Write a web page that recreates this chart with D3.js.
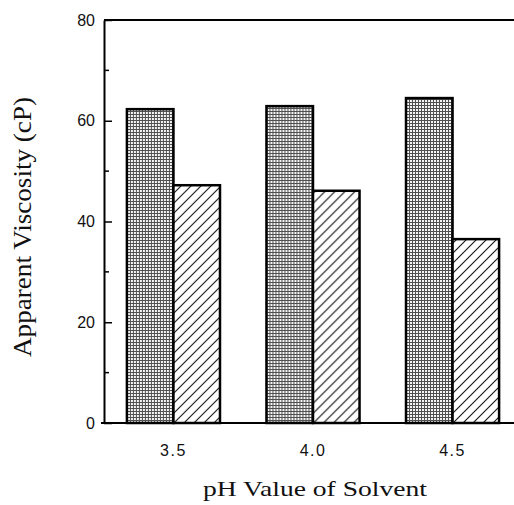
<!DOCTYPE html>
<html>
<head>
<meta charset="utf-8">
<script src="https://cdn.jsdelivr.net/npm/d3@7"></script>
<style>
  html, body { margin: 0; padding: 0; background: #fff; }
  svg { display: block; }
</style>
</head>
<body>
<svg id="chart"></svg>
<script>
// pH of solvent, two series of apparent viscosity (cP)
const phValues = ["3.5", "4.0", "4.5"];
const seriesKeys = ["dotted", "hatched"];
const dottedValues = [62.3, 62.9, 64.5];
const hatchedValues = [47.2, 46.1, 36.5];
const yTicks = [0, 20, 40, 60, 80];
const yMinorTicks = [10, 30, 50, 70];

const width = 514, height = 505;
const margin = { top: 20, right: 0, bottom: 82, left: 104 };
const plotBottom = height - margin.bottom;
const sansFont = '"Liberation Sans", Arial, sans-serif';
const serifFont = '"Liberation Serif", "Times New Roman", serif';

const svg = d3.select('#chart')
    .attr('width', width)
    .attr('height', height);

// fill patterns
const defs = svg.append('defs');
const dots = defs.append('pattern')
    .attr('id', 'dots')
    .attr('patternUnits', 'userSpaceOnUse')
    .attr('width', 3).attr('height', 3);
dots.append('rect').attr('width', 3).attr('height', 3).attr('fill', '#505050');
dots.append('rect').attr('x', 1).attr('y', 1).attr('width', 2).attr('height', 2).attr('fill', '#f6f6f6');

const hatch = defs.append('pattern')
    .attr('id', 'hatch')
    .attr('patternUnits', 'userSpaceOnUse')
    .attr('width', 10).attr('height', 10);
hatch.append('rect').attr('width', 10).attr('height', 10).attr('fill', '#fff');
hatch.append('path')
    .attr('d', 'M-1,1 l2,-2 M0,10 l10,-10 M9,11 l2,-2')
    .attr('stroke', '#111')
    .attr('stroke-width', 1.1);

const yScale = d3.scaleLinear()
    .domain([0, 80])
    .range([plotBottom, margin.top]);

const xScale = d3.scaleBand()
    .domain(phValues)
    .range([99, 527])
    .paddingInner(0.333)
    .paddingOuter(0.2);

const subScale = d3.scaleBand()
    .domain(seriesKeys)
    .range([0, xScale.bandwidth()]);

const rows = phValues.map((ph, i) => ({ ph, dotted: dottedValues[i], hatched: hatchedValues[i] }));

// bars
const groups = svg.append('g').selectAll('g')
  .data(rows)
  .join('g')
    .attr('transform', d => `translate(${xScale(d.ph)},0)`);

groups.selectAll('rect')
  .data(d => seriesKeys.map(k => ({ key: k, value: d[k] })))
  .join('rect')
    .attr('x', d => subScale(d.key))
    .attr('y', d => yScale(d.value))
    .attr('width', subScale.bandwidth())
    .attr('height', d => plotBottom - yScale(d.value))
    .attr('fill', d => d.key === 'dotted' ? 'url(#dots)' : 'url(#hatch)')
    .attr('stroke', '#000')
    .attr('stroke-width', 2.5);

// frame lines: top, bottom
svg.append('line')
    .attr('x1', margin.left).attr('x2', width)
    .attr('y1', margin.top).attr('y2', margin.top)
    .attr('stroke', '#000').attr('stroke-width', 2);
svg.append('line')
    .attr('x1', margin.left - 3).attr('x2', width)
    .attr('y1', plotBottom).attr('y2', plotBottom)
    .attr('stroke', '#000').attr('stroke-width', 2);

// y axis
const yAxis = d3.axisLeft(yScale)
    .tickValues(yTicks)
    .tickSizeInner(-8)
    .tickSizeOuter(0)
    .tickPadding(9)
    .tickFormat(d3.format('d'));

const yAxisG = svg.append('g')
    .attr('transform', `translate(${margin.left},0)`)
    .call(yAxis);
yAxisG.select('.domain').attr('stroke', '#000').attr('stroke-width', 2);
yAxisG.selectAll('.tick line').attr('stroke', '#000').attr('stroke-width', 1.5);
yAxisG.selectAll('.tick text')
    .attr('font-family', sansFont)
    .attr('font-size', 16)
    .attr('fill', '#111');

svg.append('g')
    .attr('transform', `translate(${margin.left},0)`)
  .selectAll('line')
  .data(yMinorTicks)
  .join('line')
    .attr('x1', 0).attr('x2', 5)
    .attr('y1', d => yScale(d)).attr('y2', d => yScale(d))
    .attr('stroke', '#000').attr('stroke-width', 1.5);

// x axis labels
const xAxis = d3.axisBottom(xScale).tickSize(0).tickPadding(22);
const xAxisG = svg.append('g')
    .attr('transform', `translate(0,${plotBottom})`)
    .call(xAxis);
xAxisG.select('.domain').remove();
xAxisG.selectAll('.tick text')
    .attr('font-family', sansFont)
    .attr('font-size', 16)
    .attr('letter-spacing', 1.5)
    .attr('fill', '#111');

// axis titles
svg.append('text')
    .attr('font-family', serifFont)
    .attr('font-size', 26)
    .attr('fill', '#111')
    .attr('text-anchor', 'middle')
    .attr('textLength', 260)
    .attr('lengthAdjust', 'spacingAndGlyphs')
    .attr('transform', `translate(31,227) rotate(-90)`)
    .text('Apparent Viscosity (cP)');

svg.append('text')
    .attr('font-family', serifFont)
    .attr('font-size', 21)
    .attr('fill', '#111')
    .attr('text-anchor', 'middle')
    .attr('textLength', 224)
    .attr('lengthAdjust', 'spacingAndGlyphs')
    .attr('x', 315)
    .attr('y', 496)
    .text('pH Value of Solvent');
</script>
</body>
</html>
